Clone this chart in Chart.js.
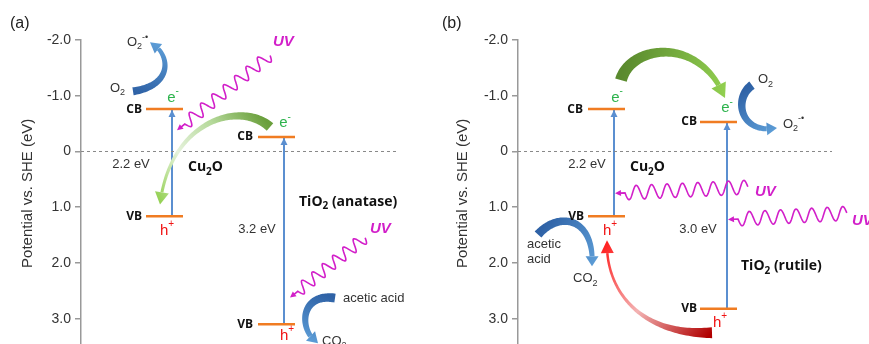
<!DOCTYPE html>
<html>
<head>
<meta charset="utf-8">
<script src="https://cdn.jsdelivr.net/npm/chart.js@4.4.1/dist/chart.umd.min.js"></script>
<style>
html, body { margin: 0; padding: 0; background: #fff; overflow: hidden; }
#wrapA { position: absolute; left: 0; top: 0; width: 435px; height: 359px; }
#wrapB { position: absolute; left: 435px; top: 0; width: 434px; height: 359px; }
</style>
</head>
<body>
<div id="wrapA"><canvas id="chartA"></canvas></div>
<div id="wrapB"><canvas id="chartB"></canvas></div>
<script>
// potential axis (eV vs SHE)
const yTicks = [-2, -1, 0, 1, 2, 3];
// band edges [CB, VB] in eV
const cu2oBands = [-0.76, 1.16];
const anataseBands = [-0.26, 3.10];
const rutileBands = [-0.53, 2.82];
const gapLabelsA = ['2.2 eV', '3.2 eV'];
const gapLabelsB = ['2.2 eV', '3.0 eV'];

const MAGENTA = '#d21fc9';
const ORANGE = '#f07c22';
const ARROW_BLUE = '#5b8fd0';
const SANS = '"Liberation Sans", Arial, sans-serif';
const BOLD = '"Open Sans", "Liberation Sans", sans-serif';

// text styles
const LBL = { size: 13, color: '#333' };
const EDGE = { style: 'bold', size: 12, fam: BOLD, color: '#111' };
const NAME = { style: 'bold', size: 14, fam: BOLD, color: '#111' };
const ELEC = { size: 15, color: '#2db34d' };
const HOLE = { size: 15, color: '#f01414' };
const UVF = { style: 'italic bold', size: 15, color: MAGENTA };
const BLUE_GRAD = ['#2f62a6', '#5b9bd5'];

function t(s, x, y, align, st) { return Object.assign({ s, x, y, align }, st); }

const panelA = {
    label: '(a)', labelX: 10, axisX: 81, xMax: 350, padRight: 4, zeroEnd: 316,
    levels: [
        { span: [65, 102], bands: cu2oBands, arrowX: 91 },
        { span: [177, 214], bands: anataseBands, arrowX: 203 }
    ],
    texts: [
        t('CB', 61, cu2oBands[0], 'right', EDGE),
        t('VB', 61, cu2oBands[1], 'right', EDGE),
        t('e^{-}', 92, -0.97, 'center', ELEC),
        t('h^{+}', 86, 1.42, 'center', HOLE),
        t(gapLabelsA[0], 50, 0.23, 'center', LBL),
        t('Cu_{2}O', 107, 0.28, 'left', NAME),
        t('CB', 172, anataseBands[0], 'right', EDGE),
        t('e^{-}', 204, -0.51, 'center', ELEC),
        t('VB', 172, anataseBands[1], 'right', EDGE),
        t('h^{+}', 206, 3.30, 'center', HOLE),
        t(gapLabelsA[1], 176, 1.39, 'center', LBL),
        t('TiO_{2} (anatase)', 218, 0.90, 'left', NAME),
        t('UV', 192, -1.96, 'left', UVF),
        t('UV', 289, 1.38, 'left', UVF),
        t('acetic acid', 262, 2.63, 'left', LBL),
        t('CO_{2}', 241, 3.40, 'left', LBL),
        t('O_{2}', 29, -1.14, 'left', LBL),
        t('O_{2}^{-•}', 46, -1.96, 'left', LBL)
    ],
    waves: [
        { tip: [96, -0.38], end: [189, -1.73], loops: 7.5, amp: 6 },
        { tip: [209, 2.62], end: [284, 1.54], loops: 6.5, amp: 6 }
    ],
    curves: [
        { p: [[52, -1.08], [94, -1.19], [89, -1.78], [69, -1.96]], w0: 8, w1: 4, pow: 1, head: 10, hw: 12, colors: BLUE_GRAD },
        { p: [[189, -0.44], [159, -0.92], [89, -0.56], [79, 0.95]], w0: 10, w1: 3, pow: 2, head: 12, hw: 14, colors: ['#6a9f3c', '#b5d99a', '#e6f2dc', '#92d050'] },
        { p: [[254, 2.63], [219, 2.53], [217, 3.21], [237, 3.44]], w0: 9, w1: 5, pow: 1, head: 10, hw: 13, colors: BLUE_GRAD }
    ]
};

const panelB = {
    label: '(b)', labelX: 7, axisX: 83, xMax: 348, padRight: 3, zeroEnd: 314,
    levels: [
        { span: [70, 107], bands: cu2oBands, arrowX: 96 },
        { span: [182, 219], bands: rutileBands, arrowX: 209 }
    ],
    texts: [
        t('CB', 65, cu2oBands[0], 'right', EDGE),
        t('VB', 66, cu2oBands[1], 'right', EDGE),
        t('e^{-}', 99, -0.97, 'center', ELEC),
        t('h^{+}', 92, 1.42, 'center', HOLE),
        t(gapLabelsB[0], 69, 0.23, 'center', LBL),
        t('Cu_{2}O', 112, 0.28, 'left', NAME),
        t('CB', 179, rutileBands[0], 'right', EDGE),
        t('e^{-}', 209, -0.78, 'center', ELEC),
        t('VB', 179, rutileBands[1], 'right', EDGE),
        t('h^{+}', 202, 3.07, 'center', HOLE),
        t(gapLabelsB[1], 180, 1.39, 'center', LBL),
        t('TiO_{2} (rutile)', 223, 2.06, 'left', NAME),
        t('UV', 237, 0.73, 'left', UVF),
        t('UV', 334, 1.24, 'left', UVF),
        t('acetic', 9, 1.66, 'left', LBL),
        t('acid', 9, 1.94, 'left', LBL),
        t('CO_{2}', 55, 2.28, 'left', LBL),
        t('O_{2}', 240, -1.29, 'left', LBL),
        t('O_{2}^{-•}', 265, -0.49, 'left', LBL)
    ],
    waves: [
        { tip: [97, 0.75], end: [230, 0.64], loops: 8, amp: 7 },
        { tip: [210, 1.22], end: [329, 1.11], loops: 7, amp: 7 }
    ],
    curves: [
        { p: [[103, -1.28], [112, -1.91], [182, -2.09], [207, -0.96]], w0: 12, w1: 5, pow: 1, head: 13, hw: 16, colors: ['#5a8a2e', '#92d050'] },
        { p: [[234, -1.19], [215, -0.95], [222, -0.30], [259, -0.42]], w0: 9, w1: 5, pow: 1, head: 10, hw: 13, colors: BLUE_GRAD },
        { p: [[20, 1.49], [42, 1.05], [77, 1.20], [74, 2.06]], w0: 9, w1: 5, pow: 1, head: 10, hw: 13, colors: BLUE_GRAD },
        { p: [[194, 3.25], [122, 3.30], [87, 2.49], [89, 1.59]], w0: 11, w1: 2.5, pow: 2.5, head: 12, hw: 13, colors: ['#b00000', '#f3b3b3', '#ff1e1e'] }
    ]
};

// ---- drawing helpers ----
function parseRich(s) {
    const out = [];
    const re = /([_^])\{([^}]*)\}|([^_^]+)/g;
    let m;
    while ((m = re.exec(s))) {
        if (m[3]) out.push({ t: m[3], k: 0 });
        else out.push({ t: m[2], k: m[1] === '_' ? 1 : -1 });
    }
    return out;
}

function drawText(ctx, item, px, py) {
    const parts = parseRich(item.s);
    const size = item.size || 13;
    const fam = item.fam || SANS;
    const fontFor = k => (item.style || '') + ' ' + (k ? Math.round(size * 0.68) : size) + 'px ' + fam;
    let w = 0;
    parts.forEach(p => { ctx.font = fontFor(p.k); p.w = ctx.measureText(p.t).width; w += p.w; });
    let x = item.align === 'right' ? px - w : item.align === 'center' ? px - w / 2 : px;
    ctx.fillStyle = item.color || '#333';
    ctx.textBaseline = 'middle';
    ctx.textAlign = 'left';
    parts.forEach(p => {
        ctx.font = fontFor(p.k);
        const dy = p.k > 0 ? size * 0.35 : p.k < 0 ? -size * 0.4 : 0;
        ctx.fillText(p.t, x, py + dy);
        x += p.w;
    });
}

function cubic(P, tt) {
    const u = 1 - tt;
    const a = u * u * u, b = 3 * u * u * tt, c = 3 * u * tt * tt, d = tt * tt * tt;
    return { x: a * P[0].x + b * P[1].x + c * P[2].x + d * P[3].x,
             y: a * P[0].y + b * P[1].y + c * P[2].y + d * P[3].y };
}

function drawCurve(ctx, P, cv) {
    const N = 80, pts = [], len = [0];
    for (let i = 0; i <= N; i++) pts.push(cubic(P, i / N));
    for (let i = 1; i <= N; i++) len.push(len[i - 1] + Math.hypot(pts[i].x - pts[i - 1].x, pts[i].y - pts[i - 1].y));
    const cut = len[N] - cv.head;
    const L = [], R = [];
    let last = 0;
    for (let i = 0; i <= N && len[i] <= cut; i++) {
        const a = pts[Math.max(i - 1, 0)], c = pts[Math.min(i + 1, N)];
        const tx = c.x - a.x, ty = c.y - a.y, tl = Math.hypot(tx, ty);
        const nx = -ty / tl, ny = tx / tl;
        const f = len[i] / cut;
        const w = (cv.w1 + (cv.w0 - cv.w1) * Math.pow(1 - f, cv.pow)) / 2;
        L.push({ x: pts[i].x + nx * w, y: pts[i].y + ny * w });
        R.push({ x: pts[i].x - nx * w, y: pts[i].y - ny * w });
        last = i;
    }
    const g = ctx.createLinearGradient(P[0].x, P[0].y, P[3].x, P[3].y);
    cv.colors.forEach((c, i) => g.addColorStop(i / (cv.colors.length - 1), c));
    ctx.fillStyle = g;
    ctx.beginPath();
    L.forEach((p, i) => i ? ctx.lineTo(p.x, p.y) : ctx.moveTo(p.x, p.y));
    for (let i = R.length - 1; i >= 0; i--) ctx.lineTo(R[i].x, R[i].y);
    ctx.closePath();
    ctx.fill();
    // arrow head
    const B = pts[last], tip = pts[N];
    const dx = tip.x - B.x, dy = tip.y - B.y, dl = Math.hypot(dx, dy);
    const nx = -dy / dl, ny = dx / dl, hw = cv.hw / 2;
    ctx.beginPath();
    ctx.moveTo(tip.x, tip.y);
    ctx.lineTo(B.x + nx * hw, B.y + ny * hw);
    ctx.lineTo(B.x - nx * hw, B.y - ny * hw);
    ctx.closePath();
    ctx.fill();
}

function drawWave(ctx, a, b, loops, amp) {
    const dx = b.x - a.x, dy = b.y - a.y, L = Math.hypot(dx, dy);
    const ux = dx / L, uy = dy / L, nx = -uy, ny = ux;
    const s0 = 10;
    ctx.strokeStyle = MAGENTA;
    ctx.lineWidth = 1.6;
    ctx.beginPath();
    ctx.moveTo(a.x + ux * 4, a.y + uy * 4);
    ctx.lineTo(a.x + ux * s0, a.y + uy * s0);
    for (let s = s0; s <= L; s += 0.5) {
        const off = amp * Math.sin((s - s0) / (L - s0) * loops * 2 * Math.PI);
        ctx.lineTo(a.x + ux * s + nx * off, a.y + uy * s + ny * off);
    }
    ctx.stroke();
    ctx.fillStyle = MAGENTA;
    ctx.beginPath();
    ctx.moveTo(a.x, a.y);
    ctx.lineTo(a.x + ux * 6 + nx * 3, a.y + uy * 6 + ny * 3);
    ctx.lineTo(a.x + ux * 6 - nx * 3, a.y + uy * 6 - ny * 3);
    ctx.closePath();
    ctx.fill();
}

function overlay(panel) {
    return {
        id: 'overlay',
        afterDraw(chart) {
            const ctx = chart.ctx, xs = chart.scales.x, ys = chart.scales.y;
            const pt = v => ({ x: xs.getPixelForValue(v[0]), y: ys.getPixelForValue(v[1]) });
            ctx.save();
            // arrow heads on the excitation lines
            chart.data.datasets.forEach(ds => {
                if (!ds.arrow) return;
                const tip = pt([ds.data[1].x, ds.data[1].y]);
                ctx.fillStyle = ARROW_BLUE;
                ctx.beginPath();
                ctx.moveTo(tip.x, tip.y + 1);
                ctx.lineTo(tip.x - 3.5, tip.y + 8);
                ctx.lineTo(tip.x + 3.5, tip.y + 8);
                ctx.closePath();
                ctx.fill();
            });
            panel.curves.forEach(cv => drawCurve(ctx, cv.p.map(pt), cv));
            panel.waves.forEach(w => drawWave(ctx, pt(w.tip), pt(w.end), w.loops, w.amp));
            panel.texts.forEach(it => { const p = pt([it.x, it.y]); drawText(ctx, it, p.x, p.y); });
            drawText(ctx, { s: panel.label, size: 16, color: '#222' }, panel.labelX, 24);
            ctx.restore();
        }
    };
}

function buildDatasets(panel) {
    const sets = [{
        data: [{ x: 0, y: 0 }, { x: panel.zeroEnd, y: 0 }],
        borderColor: '#888', borderWidth: 1, borderDash: [3, 3]
    }];
    panel.levels.forEach(lv => {
        lv.bands.forEach(e => sets.push({
            data: [{ x: lv.span[0], y: e }, { x: lv.span[1], y: e }],
            borderColor: ORANGE, borderWidth: 2.5
        }));
        sets.push({
            data: [{ x: lv.arrowX, y: lv.bands[1] }, { x: lv.arrowX, y: lv.bands[0] }],
            borderColor: ARROW_BLUE, borderWidth: 2, arrow: true
        });
    });
    return sets.map(s => Object.assign({ showLine: true, pointRadius: 0, clip: false }, s));
}

function makeChart(id, panel) {
    return new Chart(document.getElementById(id), {
        type: 'scatter',
        data: { datasets: buildDatasets(panel) },
        options: {
            animation: false,
            responsive: true,
            maintainAspectRatio: false,
            layout: { padding: { top: 40, right: panel.padRight, bottom: 0, left: 0 } },
            plugins: { legend: { display: false }, tooltip: { enabled: false } },
            scales: {
                x: { type: 'linear', display: false, min: 0, max: panel.xMax },
                y: {
                    type: 'linear', min: -2, max: 3.5, reverse: true,
                    afterFit: s => { s.width = panel.axisX; },
                    afterBuildTicks: s => { s.ticks = yTicks.map(v => ({ value: v })); },
                    ticks: {
                        color: '#333', padding: 4,
                        font: { family: SANS, size: 14 },
                        callback: v => v === 0 ? '0' : v.toFixed(1)
                    },
                    grid: { drawOnChartArea: false, drawTicks: true, tickLength: 6, color: '#999', lineWidth: 1.5 },
                    border: { display: true, color: '#999', width: 1.5 },
                    title: {
                        display: true, text: 'Potential vs. SHE (eV)', color: '#333',
                        font: { family: SANS, size: 15 }, padding: { top: 19, bottom: 0 }
                    }
                }
            }
        },
        plugins: [overlay(panel)]
    });
}

makeChart('chartA', panelA);
makeChart('chartB', panelB);
</script>
</body>
</html>
